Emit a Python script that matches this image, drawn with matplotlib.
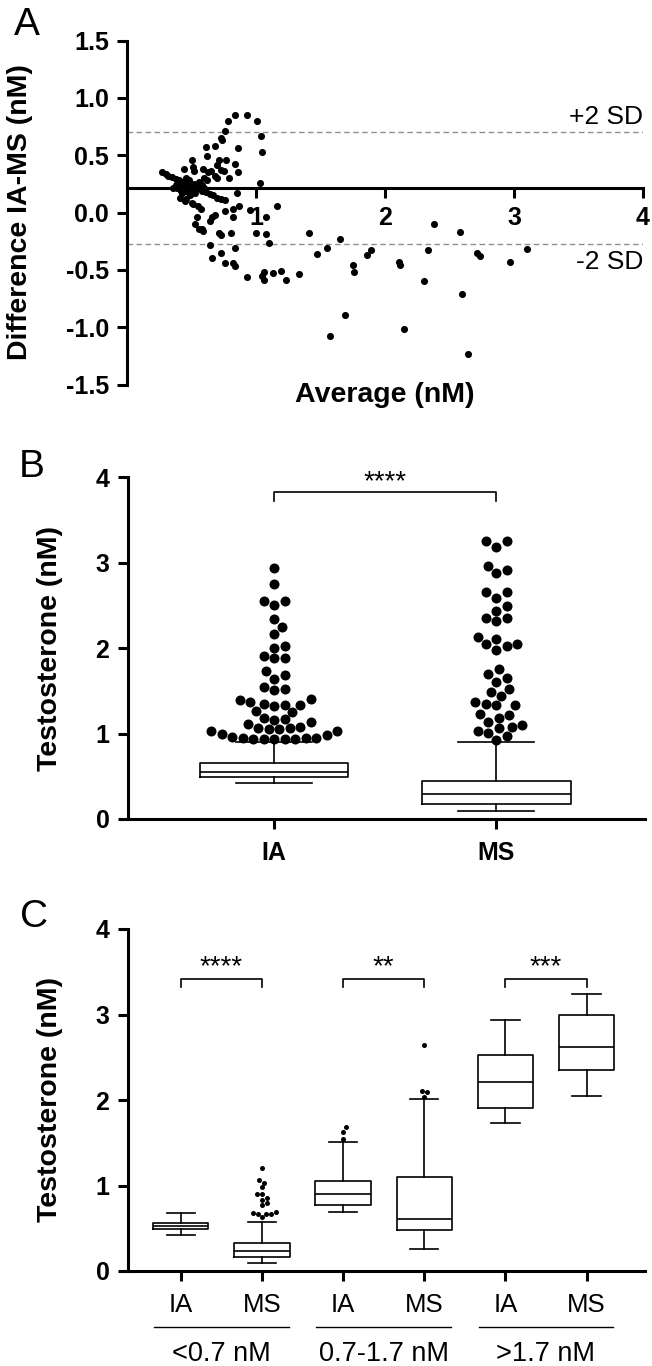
import numpy as np
import matplotlib
matplotlib.use("Agg")
import matplotlib.pyplot as plt
import matplotlib.transforms as mtrans
from matplotlib.lines import Line2D

plt.rcParams['font.family'] = ['Liberation Sans', 'DejaVu Sans']

# ---- panel A: Bland-Altman ----
avg_a = [0.84, 0.93, 1.01, 0.78, 0.76, 1.04, 0.74, 0.73, 0.86, 1.05, 0.68, 0.61, 0.62,
         0.71, 0.70, 0.77, 0.50, 0.44, 0.51, 0.52, 0.59, 0.63, 0.65, 0.73, 0.75, 0.84,
         0.86, 0.79, 0.70, 0.68, 0.60, 0.62, 1.03,
         0.27, 0.30, 0.32, 0.35, 0.38, 0.40, 0.43, 0.46, 0.49, 0.52, 0.55, 0.58, 0.61,
         0.64, 0.67, 0.70, 0.73, 0.76,
         0.39, 0.41, 0.46, 0.45, 0.50, 0.51, 0.55, 0.57, 0.40, 0.42, 0.44, 0.45, 0.47,
         0.48, 0.50, 0.52, 0.53, 0.55, 0.56, 0.43, 0.38, 0.49, 0.46, 0.58, 0.60, 0.42,
         0.36, 0.47,
         0.54, 0.53, 0.56, 0.58,
         0.85, 0.87, 0.95, 0.82, 0.76, 1.16, 1.08, 0.68, 0.66, 0.64, 0.82, 0.59, 0.71,
         0.73, 0.81, 1.00, 1.08, 1.10, 0.64, 0.84, 0.73, 0.66, 0.76, 0.82, 0.84, 0.93,
         1.06, 1.05, 1.06, 1.13, 1.19, 1.23, 1.33, 1.41, 1.47, 1.55, 1.65, 1.75, 1.76,
         1.86, 1.89, 2.11, 2.12, 2.33, 2.38, 2.30, 2.58, 2.71, 2.74, 2.60, 2.97, 3.10,
         1.69, 1.57, 2.15, 2.64]
diff_a = [0.85, 0.85, 0.80, 0.80, 0.71, 0.67, 0.63, 0.65, 0.56, 0.53, 0.58, 0.57, 0.49,
          0.46, 0.41, 0.46, 0.46, 0.38, 0.40, 0.36, 0.38, 0.35, 0.36, 0.37, 0.36, 0.42,
          0.35, 0.30, 0.30, 0.32, 0.30, 0.28, 0.26,
          0.35, 0.34, 0.32, 0.31, 0.29, 0.28, 0.27, 0.25, 0.24, 0.22, 0.21, 0.19, 0.18,
          0.16, 0.15, 0.13, 0.12, 0.11,
          0.21, 0.13, 0.12, 0.10, 0.08, 0.07, 0.06, 0.03, 0.25, 0.22, 0.26, 0.19, 0.22,
          0.28, 0.20, 0.25, 0.17, 0.23, 0.27, 0.17, 0.24, 0.15, 0.30, 0.24, 0.21, 0.19,
          0.21, 0.18,
          -0.04, -0.10, -0.14, -0.14,
          0.17, 0.06, 0.02, 0.03, 0.01, 0.06, -0.04, -0.02, -0.04, -0.07, -0.04, -0.16, -0.18,
          -0.20, -0.18, -0.18, -0.19, -0.27, -0.28, -0.31, -0.35, -0.40, -0.44, -0.44, -0.47, -0.56,
          -0.52, -0.55, -0.59, -0.53, -0.51, -0.59, -0.54, -0.18, -0.36, -0.31, -0.23, -0.46, -0.52,
          -0.37, -0.33, -0.43, -0.46, -0.33, -0.10, -0.60, -0.17, -0.35, -0.38, -0.71, -0.43, -0.32,
          -0.89, -1.08, -1.02, -1.23]
bias = 0.213
sd_hi = 0.706
sd_lo = -0.278

# ---- panel B: all samples ----
b_groups = ['IA', 'MS']
b_med = [0.546, 0.293]
b_q1 = [0.488, 0.176]
b_q3 = [0.652, 0.449]
b_lo = [0.425, 0.094]
b_hi = [0.900, 0.898]
b_out_ia = [2.94, 2.75, 2.55, 2.50, 2.55, 2.34, 2.25, 2.17, 2.03, 2.00, 1.91, 1.88, 1.89,
            1.73, 1.69, 1.64, 1.54, 1.51, 1.52, 1.40, 1.37, 1.33, 1.32, 1.33, 1.35, 1.39,
            1.26, 1.25, 1.18, 1.16, 1.11, 1.08, 1.06, 1.07, 1.14, 1.17, 1.05, 1.03, 0.98,
            0.95, 0.95, 0.94, 0.94, 0.94, 0.94, 0.94, 0.95, 0.96, 0.99, 1.03, 1.05]
b_out_ms = [3.25, 3.18, 3.25, 2.92, 2.88, 2.96, 2.66, 2.59, 2.66, 2.49, 2.44, 2.35, 2.32,
            2.35, 2.05, 2.13, 1.98, 2.02, 2.11, 2.05, 1.76, 1.70, 1.60, 1.65, 1.52, 1.49,
            1.44, 1.33, 1.37, 1.35, 1.33, 1.22, 1.23, 1.18, 1.13, 1.08, 1.06, 1.10, 1.03,
            1.01, 0.97, 0.93]

# ---- panel C: by concentration range ----
c_ticks = ['IA', 'MS', 'IA', 'MS', 'IA', 'MS']
c_ranges = ['<0.7 nM', '0.7-1.7 nM', '>1.7 nM']
c_stars = ['****', '**', '***']
c_med = [0.526, 0.234, 0.898, 0.613, 2.205, 2.619]
c_q1 = [0.487, 0.160, 0.773, 0.484, 1.904, 2.353]
c_q3 = [0.558, 0.324, 1.054, 1.097, 2.529, 2.993]
c_lo = [0.420, 0.090, 0.687, 0.261, 1.729, 2.041]
c_hi = [0.682, 0.577, 1.514, 2.014, 2.930, 3.243]
c_out = [[], [1.20, 1.06, 1.03, 0.98, 0.90, 0.90, 0.83, 0.85, 0.79, 0.77, 0.68, 0.67,
              0.69, 0.67, 0.67, 0.63],
         [1.68, 1.63, 1.54], [2.64, 2.11, 2.09, 2.04], [], []]


def swarm(vals, center, d, px_x, px_y):
    # simple beeswarm: lowest values first, nudge sideways until no overlap (pixels)
    vals = np.asarray(vals, float)
    xs = np.zeros(len(vals))
    placed = []
    step = d * 0.25
    for i in np.argsort(vals):
        y = vals[i] * px_y
        k = 0
        off = None
        while off is None:
            for o in ([0.0] if k == 0 else [k * step, -k * step]):
                if all((o - p) ** 2 + (y - q) ** 2 >= (0.97 * d) ** 2 for p, q in placed):
                    off = o
                    break
            k += 1
        placed.append((off, y))
        xs[i] = center + off / px_x
    return xs


def style_axes(ax):
    for s in ['top', 'right']:
        ax.spines[s].set_visible(False)
    for s in ['left', 'bottom']:
        ax.spines[s].set_linewidth(2.2)
    ax.tick_params(width=2.2, length=7, pad=6)


W, H = 652, 1366
fig = plt.figure(figsize=(W / 100, H / 100), dpi=100)

# A
axA = fig.add_axes([127 / W, 1 - 384.5 / H, 516 / W, 344 / H])
style_axes(axA)
axA.spines['bottom'].set_position(('data', bias))
axA.set_xlim(0, 4)
axA.set_ylim(-1.5, 1.5)
axA.axhline(sd_hi, color='#8f8f8f', lw=1.0, ls=(0, (4, 2.5)), zorder=1)
axA.axhline(sd_lo, color='#8f8f8f', lw=1.0, ls=(0, (4, 2.5)), zorder=1)
axA.scatter(avg_a, diff_a, s=26, color='black', linewidths=0, zorder=3, clip_on=False)
axA.set_xticks([1, 2, 3, 4], ['1', '2', '3', '4'], fontsize=18, fontweight='bold')
yt = [-1.5, -1.0, -0.5, 0.0, 0.5, 1.0, 1.5]
axA.set_yticks(yt, [f'{v:.1f}' for v in yt], fontsize=18, fontweight='bold')
axA.set_ylabel('Difference IA-MS (nM)', fontsize=20.5, fontweight='bold')
axA.yaxis.set_label_coords(-0.182, 0.5)
axA.set_xlabel('Average (nM)', fontsize=20.5, fontweight='bold')
axA.xaxis.set_label_coords(0.5, -0.03)
axA.xaxis.label.set_va('center')
axA.annotate('+2 SD', (1.0, sd_hi), xycoords=('axes fraction', 'data'), xytext=(0, 2),
             textcoords='offset points', ha='right', va='bottom', fontsize=19)
axA.annotate('-2 SD', (1.0, sd_lo), xycoords=('axes fraction', 'data'), xytext=(0, -4),
             textcoords='offset points', ha='right', va='top', fontsize=19)

# B
axB = fig.add_axes([127.5 / W, 1 - 819 / H, 517.5 / W, 341.7 / H])
style_axes(axB)
axB.set_xlim(-0.66, 1.67)
axB.set_ylim(0, 4)
statsB = [dict(med=b_med[i], q1=b_q1[i], q3=b_q3[i], whislo=b_lo[i], whishi=b_hi[i],
               fliers=[], label=b_groups[i]) for i in range(2)]
lp = dict(color='black', lw=1.2)
axB.bxp(statsB, positions=[0, 1], widths=0.67, capwidths=0.34, showfliers=False,
        boxprops=lp, medianprops=lp, whiskerprops=lp, capprops=lp)
pxB_x, pxB_y = 517.5 / 2.33, 341.7 / 4
for i, vals in enumerate([b_out_ia, b_out_ms]):
    xs = swarm(vals, i, 10.5, pxB_x, pxB_y)
    axB.scatter(xs, vals, s=52, color='black', linewidths=0, zorder=4)
axB.set_xticks([0, 1], b_groups, fontsize=18, fontweight='bold')
axB.set_yticks([0, 1, 2, 3, 4], ['0', '1', '2', '3', '4'], fontsize=18, fontweight='bold')
axB.tick_params(axis='x', pad=9)
axB.set_ylabel('Testosterone (nM)', fontsize=20.5, fontweight='bold')
axB.yaxis.set_label_coords(-0.125, 0.5)
axB.plot([0, 0, 1, 1], [3.727, 3.824, 3.824, 3.727], color='black', lw=1.2)
axB.text(0.5, 3.94, '****', ha='center', va='center', fontsize=20)

# C
axC = fig.add_axes([127.5 / W, 1 - 1271 / H, 517.5 / W, 342 / H])
style_axes(axC)
axC.set_xlim(-0.656, 5.72)
axC.set_ylim(0, 4)
statsC = [dict(med=c_med[i], q1=c_q1[i], q3=c_q3[i], whislo=c_lo[i], whishi=c_hi[i],
               fliers=[]) for i in range(6)]
axC.bxp(statsC, positions=range(6), widths=0.68, capwidths=0.35, showfliers=False,
        boxprops=lp, medianprops=lp, whiskerprops=lp, capprops=lp)
pxC_x, pxC_y = 517.5 / 6.376, 342 / 4
for i, vals in enumerate(c_out):
    if vals:
        xs = swarm(vals, i, 5.0, pxC_x, pxC_y)
        axC.scatter(xs, vals, s=13, color='black', linewidths=0, zorder=4)
axC.set_xticks(range(6), c_ticks, fontsize=18.5)
axC.set_yticks([0, 1, 2, 3, 4], ['0', '1', '2', '3', '4'], fontsize=18, fontweight='bold')
axC.tick_params(axis='x', pad=9)
axC.set_ylabel('Testosterone (nM)', fontsize=20.5, fontweight='bold')
axC.yaxis.set_label_coords(-0.125, 0.5)
tr = mtrans.blended_transform_factory(axC.transData, axC.transAxes)
for g in range(3):
    a, b = 2 * g, 2 * g + 1
    axC.plot([a, a, b, b], [3.317, 3.418, 3.418, 3.317], color='black', lw=1.2)
    axC.text((a + b) / 2, 3.555, c_stars[g], ha='center', va='center', fontsize=20)
    cx = (a + b) / 2
    axC.add_line(Line2D([cx - 0.83, cx + 0.83], [-0.165, -0.165], transform=tr,
                        color='black', lw=1.0, clip_on=False))
    axC.text(cx, -0.243, c_ranges[g], transform=tr, ha='center', va='center', fontsize=19.5)

# panel letters
fig.text(27 / W, 1 - 25 / H, 'A', ha='center', va='center', fontsize=28)
fig.text(32 / W, 1 - 467 / H, 'B', ha='center', va='center', fontsize=28)
fig.text(34 / W, 1 - 917 / H, 'C', ha='center', va='center', fontsize=28)

fig.savefig('out.png', dpi=100)
